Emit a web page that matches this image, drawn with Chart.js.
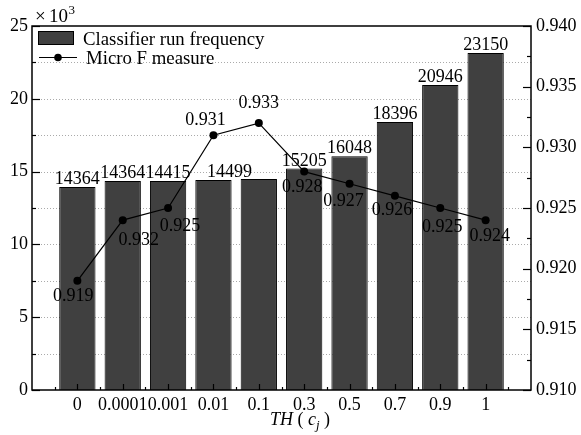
<!DOCTYPE html>
<html>
<head>
<meta charset="utf-8">
<script src="https://cdn.jsdelivr.net/npm/chart.js@4.4.1/dist/chart.umd.min.js"></script>
<style>
html,body{margin:0;padding:0;background:#fff;}
#wrap{width:581px;height:435px;position:relative;}
</style>
</head>
<body>
<div id="wrap"><canvas id="c" width="581" height="435"></canvas></div>
<script>
// ---- data ----
const categories = ['0','0.0001','0.001','0.01','0.1','0.3','0.5','0.7','0.9','1'];
const runFrequency = [13.95, 14.36, 14.36, 14.42, 14.50, 15.21, 16.05, 18.40, 20.95, 23.15]; // x10^3
const barLabels = ['14364','14364','14415','14499','','15205','16048','18396','20946','23150'];
const microF = [0.919, 0.924, 0.925, 0.931, 0.932, 0.928, 0.927, 0.926, 0.925, 0.924];
const pointLabels = ['0.919','0.932','0.925','0.931','0.933','0.928','0.927','0.926','0.925','0.924'];
const leftMin = 0, leftMax = 25, leftStep = 2.5;
const rightMin = 0.910, rightMax = 0.940, rightStep = 0.0025;

// ---- annotation styling (offsets from the marks) ----
const barLabelShift = [0,0,0,16,0,0,0,0,0,0];
const pointLabelShift = [[-4,15],[16,20],[12,18],[-8,-15],[0,-20],[-2,16],[-6,18],[-3,14],[2,19],[4,16]];

const FONT = '"Liberation Serif", "Times New Roman", serif';
const BAR_FILL = '#404040';

const deco = {
  id: 'deco',
  beforeDatasetsDraw(chart) {
    const {ctx, chartArea: a, scales} = chart;
    const y = scales.y;
    ctx.save();
    ctx.strokeStyle = '#aaaaaa';
    ctx.lineWidth = 1;
    ctx.setLineDash([1, 2]);
    for (let v = leftMin + leftStep; v < leftMax - 1e-9; v += leftStep) {
      const py = Math.round(y.getPixelForValue(v)) + 0.5;
      ctx.beginPath(); ctx.moveTo(a.left, py); ctx.lineTo(a.right, py); ctx.stroke();
    }
    ctx.restore();
  },
  afterDatasetsDraw(chart) {
    const {ctx, chartArea: a, scales} = chart;
    const x = scales.x, y = scales.y, y1 = scales.y1;
    ctx.save();
    // frame
    ctx.strokeStyle = '#000';
    ctx.lineWidth = 1.5;
    ctx.setLineDash([]);
    ctx.strokeRect(a.left, a.top, a.right - a.left, a.bottom - a.top);
    ctx.lineWidth = 1.2;
    // left ticks
    let i = 0;
    for (let v = leftMin; v <= leftMax + 1e-9; v += leftStep, i++) {
      const py = Math.round(y.getPixelForValue(v)) + 0.5;
      const len = (i % 2 === 0) ? 8 : 4;
      ctx.beginPath(); ctx.moveTo(a.left, py); ctx.lineTo(a.left + len, py); ctx.stroke();
    }
    // right ticks
    i = 0;
    for (let v = rightMin; v <= rightMax + 1e-9; v += rightStep, i++) {
      const py = Math.round(y1.getPixelForValue(v)) + 0.5;
      const len = (i % 2 === 0) ? 8 : 4;
      ctx.beginPath(); ctx.moveTo(a.right, py); ctx.lineTo(a.right - len, py); ctx.stroke();
    }
    // bottom ticks
    for (let k = 0; k < categories.length; k++) {
      const px = Math.round(x.getPixelForValue(k)) + 0.5;
      ctx.beginPath(); ctx.moveTo(px, a.bottom); ctx.lineTo(px, a.bottom - 6); ctx.stroke();
    }
    for (let k = -0.5; k <= categories.length - 0.5; k += 1) {
      const px = Math.round(x.getPixelForValue(k)) + 0.5;
      ctx.beginPath(); ctx.moveTo(px, a.bottom); ctx.lineTo(px, a.bottom - 3); ctx.stroke();
    }

    // bar labels
    ctx.fillStyle = '#000';
    ctx.font = '18px ' + FONT;
    ctx.textAlign = 'center';
    ctx.textBaseline = 'alphabetic';
    const barMeta = chart.getDatasetMeta(0);
    barMeta.data.forEach((el, k) => {
      if (!barLabels[k]) return;
      ctx.fillText(barLabels[k], el.x + barLabelShift[k], el.y - 3);
    });
    // point labels
    ctx.textBaseline = 'middle';
    const lineMeta = chart.getDatasetMeta(1);
    lineMeta.data.forEach((el, k) => {
      const s = pointLabelShift[k];
      ctx.fillText(pointLabels[k], el.x + s[0], el.y + s[1]);
    });

    // multiplier
    ctx.textAlign = 'left';
    ctx.textBaseline = 'alphabetic';
    ctx.font = '19px ' + FONT;
    ctx.fillText('\u00d7', 35, 22);
    ctx.fillText('10', 49, 22);
    const w10 = ctx.measureText('10').width;
    ctx.font = '13px ' + FONT;
    ctx.fillText('3', 49 + w10 + 0.5, 14);

    // legend
    ctx.fillStyle = BAR_FILL;
    ctx.fillRect(38, 31, 36, 13);
    ctx.strokeStyle = '#000';
    ctx.lineWidth = 1;
    ctx.strokeRect(38.5, 31.5, 35, 13);
    ctx.beginPath(); ctx.moveTo(39, 57.5); ctx.lineTo(77, 57.5); ctx.stroke();
    ctx.fillStyle = '#000';
    ctx.beginPath(); ctx.arc(58, 57.5, 3.8, 0, Math.PI * 2); ctx.fill();
    ctx.font = '18.8px ' + FONT;
    ctx.fillText('Classifier run frequency', 83, 45);
    ctx.fillText('Micro F measure', 86, 64);

    // x-axis title: TH ( c_j )
    let tx = 270; const ty = 425;
    ctx.font = 'italic 18px ' + FONT;
    ctx.fillText('TH', tx, ty); tx += ctx.measureText('TH').width;
    ctx.font = '18px ' + FONT;
    ctx.fillText(' ( ', tx, ty); tx += ctx.measureText(' ( ').width;
    ctx.font = 'italic 18px ' + FONT;
    ctx.fillText('c', tx, ty); tx += ctx.measureText('c').width;
    ctx.font = 'italic 13px ' + FONT;
    ctx.fillText('j', tx, ty + 4); tx += ctx.measureText('j').width;
    ctx.font = '18px ' + FONT;
    ctx.fillText(' )', tx, ty);
    ctx.restore();
  }
};

new Chart(document.getElementById('c'), {
  type: 'bar',
  data: {
    datasets: [
      {
        type: 'bar',
        label: 'Classifier run frequency',
        data: runFrequency.map((v, k) => ({x: k, y: v})),
        backgroundColor: BAR_FILL,
        borderColor: '#000',
        borderWidth: 1,
        barPercentage: 0.8,
        categoryPercentage: 1.0,
        yAxisID: 'y',
        order: 2
      },
      {
        type: 'line',
        label: 'Micro F measure',
        data: microF.map((v, k) => ({x: k, y: v})),
        borderColor: '#000',
        borderWidth: 1.2,
        pointRadius: 4,
        pointBackgroundColor: '#000',
        pointBorderColor: '#000',
        pointBorderWidth: 0,
        tension: 0,
        fill: false,
        yAxisID: 'y1',
        order: 1
      }
    ]
  },
  options: {
    responsive: false,
    animation: false,
    devicePixelRatio: 1,
    layout: {padding: {top: 26, left: 0, right: 0, bottom: 0}},
    plugins: {legend: {display: false}, tooltip: {enabled: false}, title: {display: false}},
    scales: {
      x: {
        type: 'linear',
        offset: false,
        min: -1, max: categories.length,
        grid: {display: false, drawTicks: false},
        border: {display: false},
        afterFit(s) { s.height = 45; },
        afterBuildTicks(s) {
          s.ticks = categories.map((c, k) => ({value: k}));
        },
        ticks: {
          autoSkip: false, maxRotation: 0, padding: 4,
          color: '#000',
          font: {family: FONT, size: 18},
          callback: (v) => categories[v] !== undefined ? categories[v] : ''
        }
      },
      y: {
        type: 'linear',
        position: 'left',
        min: leftMin, max: leftMax,
        grid: {display: false, drawTicks: false},
        border: {display: false},
        afterFit(s) { s.width = 32; },
        ticks: {
          stepSize: leftStep, padding: 4, color: '#000',
          font: {family: FONT, size: 18},
          callback: (v) => (Math.abs(v % 5) < 1e-9) ? String(v) : ''
        }
      },
      y1: {
        type: 'linear',
        position: 'right',
        min: rightMin, max: rightMax,
        grid: {display: false, drawTicks: false},
        border: {display: false},
        afterFit(s) { s.width = 50; },
        afterBuildTicks(s) {
          const t = [];
          for (let v = rightMin; v <= rightMax + 1e-9; v += 0.005) t.push({value: Math.round(v * 1000) / 1000});
          s.ticks = t;
        },
        ticks: {
          padding: 5, color: '#000',
          font: {family: FONT, size: 18},
          callback: (v) => Number(v).toFixed(3)
        }
      }
    }
  },
  plugins: [deco]
});
</script>
</body>
</html>
